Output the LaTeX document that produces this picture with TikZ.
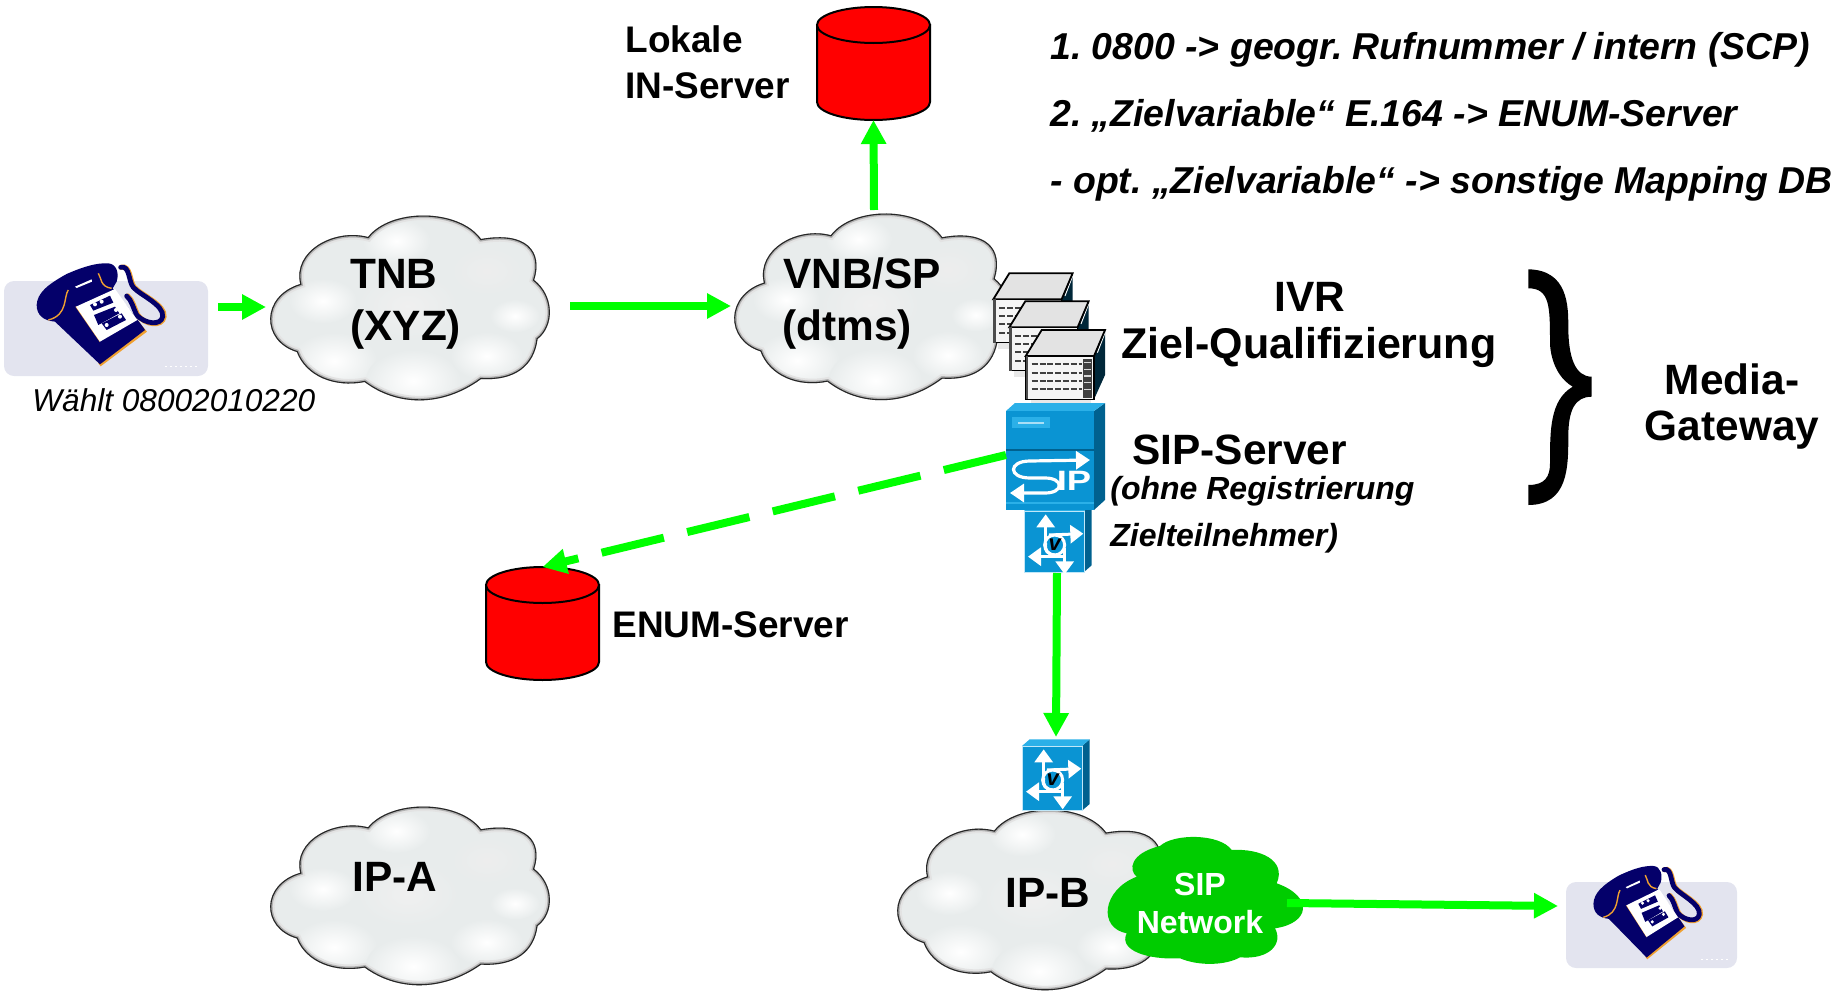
\documentclass[tikz,border=0pt]{standalone}
\usepackage{fontspec}
\usepackage{graphicx}
\setmainfont{Liberation Sans}
\usetikzlibrary{arrows.meta,calc}
\definecolor{flowgreen}{HTML}{00FF00}
\definecolor{sipgreen}{HTML}{00CC00}
\definecolor{navyphone}{HTML}{04006A}
\definecolor{phonebg}{HTML}{E3E4EF}
\definecolor{phoneor}{HTML}{F0A030}
\definecolor{ciscoblue}{HTML}{0A94D3}
\definecolor{ciscotop}{HTML}{2BB0E8}
\definecolor{ciscoside}{HTML}{00618F}
\definecolor{cloudbase}{HTML}{E8ECEC}
\tikzset{
  flow/.style={draw=flowgreen,line width=4pt,-{Triangle[length=12pt,width=12pt,fill=flowgreen]}},
  flowdash/.style={flow,dash pattern=on 32pt off 12pt},
  biglab/.style={anchor=base west,inner sep=0pt,font=\fontsize{21.2}{21.2}\selectfont\bfseries},
  midlab/.style={anchor=base west,inner sep=0pt,font=\fontsize{18.5}{18.5}\selectfont\bfseries},
  listlab/.style={anchor=base west,inner sep=0pt,font=\frenchspacing\fontsize{18.7}{18.7}\selectfont\bfseries\itshape},
  notelab/.style={anchor=base west,inner sep=0pt,font=\fontsize{16}{16}\selectfont\bfseries\itshape},
  cenlab/.style={anchor=base,inner sep=0pt,font=\fontsize{21.2}{21.2}\selectfont\bfseries},
  siplab/.style={anchor=base,inner sep=0pt,text=white,font=\fontsize{16}{16}\selectfont\bfseries},
  holder/.style={inner sep=0pt,outer sep=0pt,anchor=north west},
  phonecard/.style={holder,fill=phonebg,rounded corners=5pt},
  keyrow/.style={fill=navyphone},
  keydot/.style={fill=white},
  whitearrow/.style={draw=white,line width=1.5pt,-{Triangle[length=6.5pt,width=9pt,fill=white]}}
}
% cloud outline, local box 244 x 184
\def\cloudoutline{(25,68) .. controls (18,35) and (55,12) .. (85,21)
  .. controls (105,-8) and (165,-8) .. (185,23)
  .. controls (225,15) and (240,35) .. (232,64)
  .. controls (250,80) and (250,110) .. (235,123)
  .. controls (232,150) and (215,165) .. (185,163)
  .. controls (150,192) and (110,190) .. (82,166)
  .. controls (55,172) and (30,160) .. (22,136)
  .. controls (-10,125) and (-10,80) .. (25,68) -- cycle}
\newcommand{\softblob}[4]{\shade[inner color=#4,outer color=cloudbase] (#1,#2) ellipse [x radius=#3,y radius=#3*0.75];}
\newcommand{\graycloud}[4]{%
  \begin{scope}[shift={(#1,#2)},xscale=#3,yscale=#4]
    \begin{scope}
      \clip \cloudoutline;
      \fill[cloudbase] (-20,-20) rectangle (270,210);
      \softblob{55}{145}{38}{white}
      \softblob{125}{165}{42}{white}
      \softblob{190}{140}{32}{white}
      \softblob{45}{85}{30}{white}
      \softblob{120}{90}{45}{gray!12}
      \softblob{190}{55}{32}{gray!14}
      \softblob{110}{25}{30}{white}
      \softblob{215}{100}{22}{white}
      \draw[gray!22,line width=4.5pt] \cloudoutline;
      \draw[gray!60,line width=2.5pt] \cloudoutline;
      \draw[black!85,line width=1.1pt] \cloudoutline;
    \end{scope}
  \end{scope}}
% telephone, drawn in 3x zoom units, origin top-left of the card
\newcommand{\telephone}[4]{%
  \begin{scope}[shift={(#1,#2)},xscale=#3,yscale=#4,shift={(-12,-93)}]
    \draw[phoneor,line width=2.6pt,line cap=round] (364,52) .. controls (393,45) and (388,95) .. (403,112) .. controls (423,135) and (497,165) .. (492,200) .. controls (487,232) and (435,225) .. (413,195) .. controls (403,175) and (398,150) .. (383,138);
    \draw[navyphone,line width=2.4pt,line cap=round] (362,52) .. controls (390,45) and (385,95) .. (400,112) .. controls (420,135) and (493,165) .. (488,200) .. controls (483,228) and (435,222) .. (410,195) .. controls (400,175) and (395,150) .. (380,138);
    \fill[phoneor] (335,115) -- (441,245) -- (302,349) -- (295,340) -- cycle;
    \fill[navyphone] (110,165) .. controls (112,130) and (140,105) .. (200,72) .. controls (250,50) and (290,38) .. (325,40) .. controls (350,42) and (358,70) .. (350,95) -- (338,115) .. controls (365,150) and (415,210) .. (435,240) -- (300,343) -- (165,215) .. controls (130,212) and (110,195) .. (110,165) -- cycle;
    \draw[phoneor,line width=.7pt] (205,120) .. controls (190,140) and (205,195) .. (145,210);
    \draw[phoneor,line width=.7pt] (295,70) .. controls (305,85) and (300,110) .. (335,115);
    \fill[white] (225,110) -- (275,88) -- (276,95) -- (230,114) -- cycle;
    \fill[phoneor] (226,170) -- (300,277) -- (300,270) -- (234,170) -- cycle;
    \fill[white] (228,170) -- (345,117) -- (412,210) -- (300,275) -- cycle;
    \fill[keyrow] (270,165) -- (330,137) -- (340,158) -- (280,182) -- cycle;
    \fill[keyrow] (282,195) -- (345,170) -- (358,190) -- (295,225) -- cycle;
    \fill[keyrow] (305,220) -- (365,190) -- (378,210) -- (320,240) -- cycle;
    \fill[keydot] (285,163) circle (6);
    \fill[keydot] (305,155) circle (6);
    \fill[keydot] (348,180) circle (6);
    \fill[keydot] (320,225) circle (6);
    \fill[keydot] (360,200) circle (6);
    \draw[white,line width=.8pt,dash pattern=on 1pt off 1.5pt] (495,350) -- (600,350);
  \end{scope}}
\newcommand{\dbcyl}[2]{%
  \filldraw[fill=red,draw=black,line width=1pt] (#1-56.5,#2) -- (#1-56.5,#2+77)
    arc[start angle=180,end angle=0,x radius=56.5,y radius=18] -- (#1+56.5,#2) -- cycle;
  \filldraw[fill=red,draw=black,line width=1pt] (#1,#2) ellipse [x radius=56.5,y radius=18];}
\newcommand{\routerbox}[2]{%
  \begin{scope}[shift={(#1,#2)},scale=0.3333]
    \fill[gray!18] (15,130) rectangle (195,148);
    \fill[ciscoside!40!black] (205,0) -- (238,-78) -- (238,57) -- (205,130) -- cycle;
    \draw[white,line width=.5pt] (238,-70) -- (215,-10);
    \filldraw[fill=gray!22,draw=black,line width=.9pt] (0,0) -- (48,-78) -- (238,-78) -- (205,0) -- cycle;
    \filldraw[fill=gray!8,draw=black,line width=.6pt] (0,0) rectangle (205,130);
    \fill[black!70] (0,0) rectangle (8,130);
    \foreach \yy in {25,50,75,100}
      \draw[black!75,line width=.9pt,dash pattern=on 3pt off .9pt] (18,\yy) -- (170,\yy);
    \fill[black!75] (172,10) rectangle (198,125);
    \foreach \yy in {20,40,60,80,100}
      \draw[gray!30,line width=.6pt] (175,\yy) -- (195,\yy);
  \end{scope}}
\newcommand{\vroute}[3]{%
  \begin{scope}[shift={(#1,#2)},scale=0.3333]
    \fill[ciscoside] (180,0) -- (203,-20) -- (203,#3-20) -- (180,#3) -- cycle;
    \fill[ciscotop] (0,0) -- (23,-20) -- (203,-20) -- (180,0) -- cycle;
    \fill[ciscoblue] (0,0) rectangle (180,#3);
    \draw[white!70!ciscotop,line width=.4pt] (0,0) rectangle (180,#3);
    \draw[whitearrow] (65,95) -- (65,10);
    \draw[whitearrow] (75,72) -- (178,68);
    \draw[whitearrow] (122,137) -- (12,137);
    \draw[whitearrow] (122,110) -- (122,190);
    \filldraw[fill=ciscoblue,draw=white,line width=1.5pt] (92,102) circle (30);
    \draw[white,line width=1.5pt] (65,95) .. controls (62,120) and (70,130) .. (92,132);
    \node[inner sep=0pt,font=\fontsize{11}{11}\selectfont\bfseries\itshape] at (92,100) {v};
  \end{scope}}
\begin{document}
\begin{tikzpicture}[x=0.5pt,y=-0.5pt]
\useasboundingbox (0,0) rectangle (1844,991);
% placeholders that carry the connector anchors
\node[phonecard,minimum width=102pt,minimum height=47.5pt] (phoneA) at (4,281) {};
\telephone{4}{281}{0.3333}{0.3333}
\node[phonecard,minimum width=85.5pt,minimum height=43pt] (phoneB) at (1566,882) {};
\telephone{1566}{882}{0.28}{0.302}
\node[holder,minimum width=140pt,minimum height=92pt] (tnb) at (270,216) {};
\graycloud{272}{216}{1.13}{1}
\node[holder,minimum width=137.5pt,minimum height=93pt] (vnb) at (734,214) {};
\graycloud{736}{214}{1.115}{1.01}
\node[holder,minimum width=140pt,minimum height=89pt] (ipa) at (270,807) {};
\graycloud{272}{807}{1.13}{0.967}
\node[holder,minimum width=138pt,minimum height=90pt] (ipb) at (897,810) {};
\graycloud{899}{810}{1.12}{0.978}
% data bases
\node[holder,minimum width=56.5pt,minimum height=56.5pt] (lokal) at (817,7) {};
\dbcyl{873.5}{25}
\node[holder,minimum width=56.5pt,minimum height=56pt] (enum) at (486,567) {};
\dbcyl{542.5}{585}
% router stack
\routerbox{993.3}{299.3}
\routerbox{1009.3}{327.3}
\routerbox{1025.7}{356}
% voice router below the SIP server
\node[holder,minimum width=30pt,minimum height=30.5pt] (vrA) at (1024,511) {};
\vroute{1024}{511}{183}
% SIP server
\node[holder,minimum width=44pt,minimum height=49.5pt] (sipsrv) at (1006,411) {};
\fill[ciscoside] (1094,411) -- (1105,403) -- (1105,500) -- (1094,510) -- cycle;
\fill[ciscotop] (1006,411) -- (1015,403) -- (1105,403) -- (1094,411) -- cycle;
\fill[ciscoblue] (1006,411) rectangle (1094,510);
\fill[ciscotop] (1012,417) rectangle (1050,428);
\draw[white!60!ciscotop,line width=.7pt] (1018,423) -- (1044,423);
\draw[ciscoside,line width=.6pt] (1006,450) -- (1094,450);
\draw[ciscotop,line width=.8pt] (1006,503) -- (1094,503);
\draw[white,line width=1.6pt,-{Triangle[length=7pt,width=9pt,fill=white]}] (1030,461) -- (1090,460);
\draw[white,line width=1.6pt,-{Triangle[length=7pt,width=9pt,fill=white]}] (1030,461) .. controls (1008,461) and (1008,478) .. (1030,478) -- (1045,478) .. controls (1064,478) and (1064,493) .. (1045,493) -- (1010,493);
\node[inner sep=0pt,text=white,font=\fontsize{14}{14}\selectfont\bfseries] (iptext) at (1074,481) {\scalebox{1.3}[1]{IP}};
% second voice router
\node[holder,minimum width=30pt,minimum height=32.5pt] (vrB) at (1022,746) {};
\vroute{1022}{746}{194}
% SIP network cloud
\node[holder,minimum width=96pt,minimum height=64pt] (sipnet) at (1110,837) {};
\fill[sipgreen] (1136.7,876.7) .. controls (1102,890) and (1098,928) .. (1126.7,933.3)
  .. controls (1118.3,950) and (1146.7,960) .. (1180,958.3)
  .. controls (1200,966.7) and (1226.7,965) .. (1240,957.3)
  .. controls (1270,960) and (1283.3,943.3) .. (1275,928.3)
  .. controls (1310,923.3) and (1314,896.7) .. (1276.7,883.3)
  .. controls (1286.7,860) and (1260,848.3) .. (1231.7,850)
  .. controls (1220,833.3) and (1173.3,833.3) .. (1160,846)
  .. controls (1130,853.3) and (1128.3,870) .. (1136.7,876.7) -- cycle;
% brace
\fill[black] (1528.3,269.3) .. controls (1568.3,270) and (1568.3,306.7) .. (1568.3,326.7)
  .. controls (1568.3,356.7) and (1575,376.7) .. (1591.7,376.7) -- (1591.7,396.7)
  .. controls (1575,396.7) and (1568.3,410) .. (1568.3,436.7)
  .. controls (1568.3,466.7) and (1568.3,505) .. (1528.3,505) -- (1528.3,485)
  .. controls (1545,485) and (1550,476.7) .. (1550,463.3)
  .. controls (1550,430) and (1550,400) .. (1572.7,386.7)
  .. controls (1550,373.3) and (1550,343.3) .. (1550,343.3)
  .. controls (1550,306.7) and (1550,288.3) .. (1528.3,288.3) -- cycle;
% connectors
\draw[flow] ([shift={(10,-21.5)}]phoneA.east) -- ([shift={(-4,-1)}]tnb.west);
\draw[flow] ([shift={(20,-2)}]tnb.east) -- ([shift={(-3,-1)}]vnb.west);
\draw[flow] ([shift={(2.5,-4)}]vnb.north) -- (lokal.south);
\draw[flowdash] ([shift={(0,-5.5)}]sipsrv.west) -- (enum.north);
\draw[flow] ([shift={(3,1)}]vrA.south) -- ([shift={(4,-9)}]vrB.north);
\draw[flow] ([shift={(-15,2)}]sipnet.east) -- ([shift={(-8,-19)}]phoneB.west);
% labels
\node[biglab] (l1) at (350,288) {TNB};
\node[biglab] (l2) at (350,340) {(XYZ)};
\node[biglab] (l3) at (783,288) {VNB/SP};
\node[biglab] (l4) at (782,340) {(dtms)};
\node[biglab] (l5) at (352,891) {IP-A};
\node[biglab] (l6) at (1005,907) {IP-B};
\node[midlab] (l7) at (625,52) {Lokale};
\node[midlab] (l8) at (625,98) {IN-Server};
\node[midlab] (l9) at (612,637) {ENUM-Server};
\node[listlab] (l10) at (1050,59) {1. 0800 -> geogr. Rufnummer / intern (SCP)};
\node[listlab] (l11) at (1050,126) {2. „Zielvariable“ E.164 -> ENUM-Server};
\node[listlab] (l12) at (1050,193) {- opt. „Zielvariable“ -> sonstige Mapping DB};
\node[cenlab] (l13) at (1310,311) {IVR};
\node[biglab,font=\fontsize{21.5}{21.5}\selectfont\bfseries] (l14) at (1121,358) {Ziel-Qualifizierung};
\node[biglab] (l15) at (1132,464) {SIP-Server};
\node[notelab] (l16) at (1110,499) {(ohne Registrierung};
\node[notelab] (l17) at (1110,546) {Zielteilnehmer)};
\node[cenlab] (l18) at (1732,394) {Media-};
\node[cenlab] (l19) at (1732,440) {Gateway};
\node[siplab] (l20) at (1200,895) {SIP};
\node[siplab] (l21) at (1200,933) {Network};
\node[anchor=base west,inner sep=0pt,font=\fontsize{15.8}{15.8}\selectfont\itshape] (l22) at (32,411) {Wählt 08002010220};
\end{tikzpicture}
\end{document}
